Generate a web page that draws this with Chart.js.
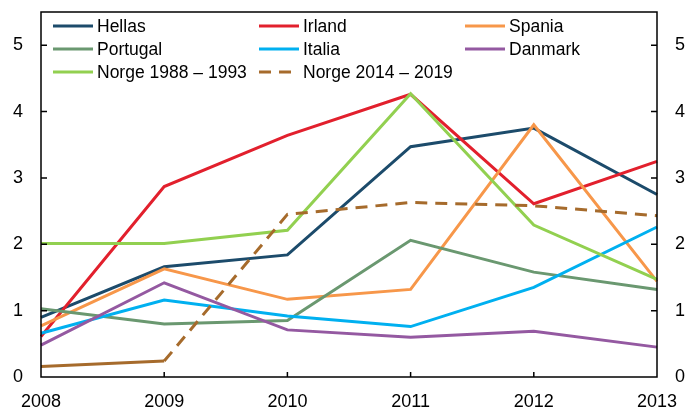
<!DOCTYPE html>
<html>
<head>
<meta charset="utf-8">
<script src="https://cdn.jsdelivr.net/npm/chart.js@4/dist/chart.umd.min.js"></script>
<style>
  html, body { margin: 0; padding: 0; background: #fff; }
  #wrap { width: 687px; height: 410px; }
</style>
</head>
<body>
<div id="wrap"><canvas id="chart" width="687" height="410"></canvas></div>
<script>
// år
const aar = ["2008", "2009", "2010", "2011", "2012", "2013"];

// serier (lest av figuren)
const hellas   = [0.90, 1.66, 1.84, 3.47, 3.75, 2.75];
const irland   = [0.61, 2.87, 3.64, 4.26, 2.61, 3.25];
const spania   = [0.77, 1.63, 1.17, 1.32, 3.80, 1.44];
const portugal = [1.03, 0.80, 0.85, 2.06, 1.58, 1.32];
const italia   = [0.66, 1.16, 0.92, 0.76, 1.35, 2.26];
const danmark  = [0.48, 1.42, 0.71, 0.60, 0.69, 0.45];
const norge88  = [2.01, 2.01, 2.21, 4.27, 2.29, 1.47];
const norge14  = [0.16, 0.24, 2.45, 2.63, 2.58, 2.43];

const navn = ["Hellas", "Irland", "Spania", "Portugal", "Italia", "Danmark",
              "Norge 1988 – 1993", "Norge 2014 – 2019"];
const farger = ["#1c4b6b", "#e2202d", "#f7974a", "#6a9870", "#00b0f0", "#9459a1",
                "#92d050", "#a66b2c"];
const serier = [hellas, irland, spania, portugal, italia, danmark, norge88, norge14];

const FONT = "'Liberation Sans', Arial, sans-serif";
const DASH = [12, 8];

/* =======================
   DATASETS
======================= */
const datasets = serier.map((s, i) => ({
  label: navn[i],
  data: s,
  borderColor: farger[i],
  backgroundColor: farger[i],
  borderWidth: 3,
  pointRadius: 0,
  tension: 0,
  order: -i,
  segment: i === 7 ? { borderDash: ctx => ctx.p0DataIndex >= 1 ? DASH : undefined } : undefined
}));

/* =======================
   RAMME, TICKS OG LEGEND
======================= */
const rammePlugin = {
  id: "ramme",
  afterDraw(chart) {
    const c = chart.ctx;
    const a = chart.chartArea;
    const y = chart.scales.y;
    const x = chart.scales.x;

    c.save();
    c.strokeStyle = "#000";
    c.lineWidth = 1.5;
    c.strokeRect(a.left, a.top, a.right - a.left, a.bottom - a.top);

    // ticks innover
    c.beginPath();
    for (let v = 1; v <= 5; v++) {
      const py = y.getPixelForValue(v);
      c.moveTo(a.left, py); c.lineTo(a.left + 6, py);
      c.moveTo(a.right, py); c.lineTo(a.right - 6, py);
    }
    for (let i = 1; i < aar.length - 1; i++) {
      const px = x.getPixelForValue(i);
      c.moveTo(px, a.bottom); c.lineTo(px, a.bottom - 5);
    }
    c.stroke();

    // legend i tre kolonner
    const kolX = [53, 259, 465];
    const radY = [26, 49, 72];
    c.font = "17.5px " + FONT;
    c.textBaseline = "middle";
    c.fillStyle = "#000";
    chart.data.datasets.forEach((ds, i) => {
      const lx = kolX[i % 3];
      const ly = radY[Math.floor(i / 3)];
      c.strokeStyle = ds.borderColor;
      c.lineWidth = 3;
      c.setLineDash(i === 7 ? DASH : []);
      c.beginPath();
      c.moveTo(lx, ly); c.lineTo(lx + 40, ly);
      c.stroke();
      c.setLineDash([]);
      c.fillText(ds.label, lx + 44, ly + 1);
    });
    c.restore();
  }
};

function fastBredde(w) {
  return scale => {
    scale.width = w;
    scale.paddingTop = 0; scale.paddingBottom = 0;
    scale.paddingLeft = 0; scale.paddingRight = 0;
  };
}

const ingenGrid = { display: false, drawTicks: false, tickLength: 0 };

const yTicks = {
  color: "#000",
  font: { family: FONT, size: 18 },
  padding: 18,
  stepSize: 1,
  callback: v => Number.isInteger(v) ? v : null
};

new Chart(document.getElementById("chart"), {
  type: "line",
  data: { labels: aar, datasets: datasets },
  plugins: [rammePlugin],
  options: {
    responsive: false,
    animation: false,
    layout: { padding: { top: 12, left: 0, right: 0, bottom: 0 } },
    plugins: { legend: { display: false }, tooltip: { enabled: false } },
    scales: {
      x: {
        offset: false,
        grid: ingenGrid,
        border: { display: false },
        ticks: { color: "#000", font: { family: FONT, size: 18 }, padding: 14, maxRotation: 0, autoSkip: false },
        afterFit: scale => {
          scale.height = 33;
          scale.paddingLeft = 0; scale.paddingRight = 0;
        }
      },
      y: {
        position: "left",
        min: 0, max: 5.5,
        grid: ingenGrid,
        border: { display: false },
        ticks: yTicks,
        afterFit: fastBredde(41)
      },
      y2: {
        position: "right",
        min: 0, max: 5.5,
        grid: ingenGrid,
        border: { display: false },
        ticks: yTicks,
        afterFit: fastBredde(30)
      }
    }
  }
});
</script>
</body>
</html>
